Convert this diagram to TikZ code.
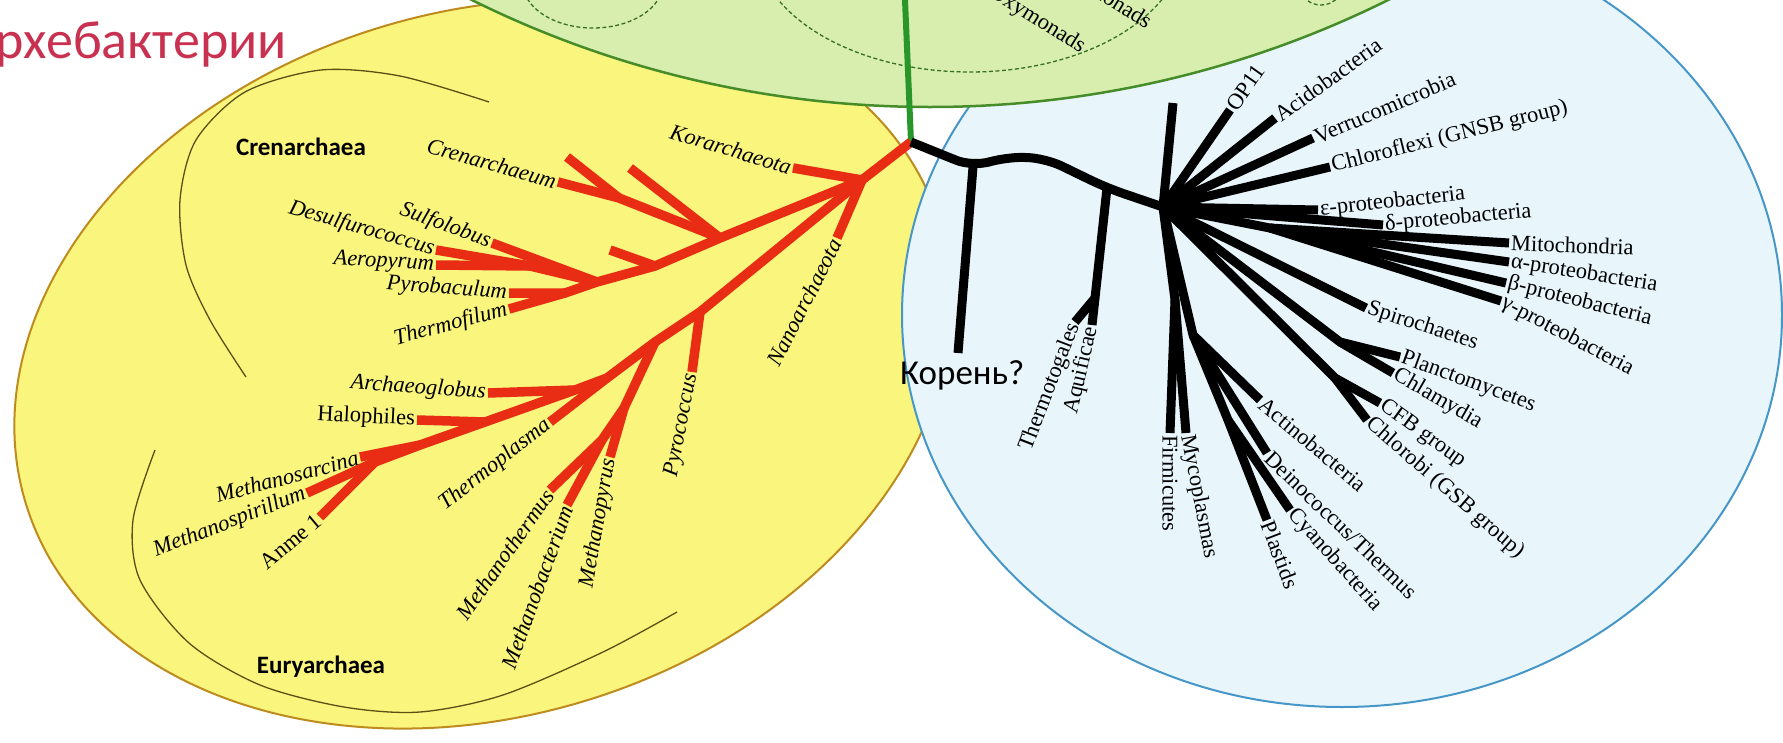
\documentclass[tikz,border=0pt]{standalone}
\usepackage{fontspec}
\setmainfont{Liberation Serif}
\newfontfamily\carl{Carlito}
\definecolor{yfill}{RGB}{250,245,125}
\definecolor{yline}{RGB}{190,140,30}
\definecolor{bfill}{RGB}{232,246,252}
\definecolor{bline}{RGB}{70,150,200}
\definecolor{gfill}{RGB}{215,238,175}
\definecolor{gline}{RGB}{70,140,40}
\definecolor{gstem}{RGB}{40,150,40}
\definecolor{redline}{RGB}{232,45,20}
\definecolor{titlecol}{RGB}{200,50,80}
\definecolor{arccol}{RGB}{90,80,20}
\begin{document}
\begin{tikzpicture}[x=1pt,y=-1pt,
  arch/.style={draw=redline, line width=9.5pt, line join=round},
  bact/.style={draw=black, line width=9pt, line join=round},
  lab/.style={font=\fontsize{22.5}{24}\selectfont, inner sep=2pt, text=black},
  ilab/.style={font=\fontsize{22.5}{24}\selectfont\itshape, inner sep=2pt, text=black},
  grp/.style={font=\carl\bfseries\fontsize{25}{28}\selectfont, inner sep=0pt},
  inner/.style={draw=gline!80!black, line width=1.3pt, dash pattern=on 4pt off 2.5pt},
  arcline/.style={draw=arccol, line width=1.3pt}
]
\fill[white] (0,0) rectangle (1783,742);
\useasboundingbox (0,0) rectangle (1783,742);
\clip (0,0) rectangle (1783,742);

% domains
\filldraw[fill=yfill, draw=yline, line width=2pt, rotate around={17:(483,364)}] (483,364) ellipse [x radius=478, y radius=352];
\filldraw[fill=bfill, draw=bline, line width=2pt] (1342,315) ellipse [x radius=440, y radius=392];
\filldraw[fill=gfill, draw=gline, line width=2.5pt] (930,-925) circle [radius=1032];

% inner dashed groups in Eukarya
\draw[inner] (970,-60) ellipse [x radius=215, y radius=132];
\draw[inner] (593,-17) ellipse [x radius=70, y radius=45];
\draw[inner] (1321,-12) ellipse [x radius=20, y radius=17];
\node[lab, anchor=east, rotate=-32] (tOxy) at (1085,50) {Oxymonads};
\node[lab, anchor=east, rotate=-32] (tTri) at (1152,24) {Trichomonads};

% archaeal group arcs
\draw[arcline] plot[smooth] coordinates {(489,102) (400,76) (321,70) (245,92) (196,140) (180,200) (186,265) (210,320) (246,377)};
\draw[arcline] plot[smooth] coordinates {(155,450) (133,520) (140,580) (189,643) (260,685) (344,707) (420,712) (503,695) (603,652) (677,612)};

% title
\node[font=\carl\fontsize{54}{60}\selectfont, text=titlecol, anchor=base east, inner sep=0pt] (title) at (287,58) {Архебактерии};

% ---------- coordinates ----------
\coordinate (G0) at (905,0);
\coordinate (J) at (911,142);
% archaea
\coordinate (N0) at (862,180);
\coordinate (Kor) at (793,168);
\coordinate (Nan) at (837,238);
\coordinate (Cr1) at (720,238);
\coordinate (Cr2) at (655,266);
\coordinate (Cr3) at (597,282);
\coordinate (Cr4) at (565,293);
\coordinate (CrA) at (630,168);
\coordinate (Cb) at (619,198);
\coordinate (Crn) at (558,182);
\coordinate (CbU) at (567,157);
\coordinate (Cr2U) at (610,250);
\coordinate (Sul) at (492,243);
\coordinate (S1) at (530,266);
\coordinate (Des) at (436,250);
\coordinate (Aer) at (436,265);
\coordinate (Pyb) at (509,293);
\coordinate (Thf) at (509,309);
\coordinate (E1) at (700,312);
\coordinate (Pyc) at (692,372);
\coordinate (E2) at (655,342);
\coordinate (E3) at (607,378);
\coordinate (Tpl) at (550,422);
\coordinate (E4) at (575,390);
\coordinate (Arg) at (488,393);
\coordinate (E5) at (485,422);
\coordinate (Hal) at (417,420);
\coordinate (E6) at (420,445);
\coordinate (Msa) at (360,457);
\coordinate (E7) at (375,462);
\coordinate (Msp) at (307,493);
\coordinate (Anm) at (320,517);
\coordinate (M0) at (624,408);
\coordinate (Mpy) at (610,457);
\coordinate (M1) at (602,440);
\coordinate (Mth) at (550,490);
\coordinate (Mba) at (567,505);
% bacteria
\coordinate (A) at (973,167);
\coordinate (K) at (958,353);
\coordinate (B1) at (1005,157);
\coordinate (B2) at (1045,158);
\coordinate (B) at (1107,188);
\coordinate (C) at (1163,207);
\coordinate (TA) at (1095,298);
\coordinate (Tho) at (1075,322);
\coordinate (Aqu) at (1092,325);
\coordinate (U0) at (1173,103);
\coordinate (OP) at (1230,110);
\coordinate (Aci) at (1275,118);
\coordinate (Ver) at (1313,138);
\coordinate (Chx) at (1330,167);
\coordinate (Eps) at (1318,210);
\coordinate (Del) at (1383,225);
\coordinate (Mn) at (1270,228);
\coordinate (Mit) at (1509,243);
\coordinate (Alp) at (1509,262);
\coordinate (Bet) at (1506,283);
\coordinate (Gam) at (1501,301);
\coordinate (Spi) at (1366,308);
\coordinate (Pn) at (1340,342);
\coordinate (Pla) at (1400,357);
\coordinate (Chl) at (1393,373);
\coordinate (Qn) at (1335,378);
\coordinate (CFB) at (1380,403);
\coordinate (Chb) at (1367,420);
\coordinate (Dn) at (1193,335);
\coordinate (Act) at (1260,400);
\coordinate (Dei) at (1267,453);
\coordinate (D1) at (1228,420);
\coordinate (Cya) at (1290,510);
\coordinate (Pls) at (1267,520);
\coordinate (Fn) at (1175,300);
\coordinate (Fir) at (1170,433);
\coordinate (Myc) at (1186,433);

% ---------- eukarya stem ----------
\draw[gstem, line width=6pt] (G0) -- (J);

% ---------- archaea tree ----------
\draw[arch] (J) -- (N0) -- (Cr1) -- (Cr2) -- (Cr3) -- (Cr4) -- (Pyb);
\draw[arch] (Cr4) -- (Thf);
\draw[arch] (N0) -- (Kor);
\draw[arch] (N0) -- (Nan);
\draw[arch] (Cr1) -- (CrA);
\draw[arch] (Cr1) -- (Cb) -- (Crn);
\draw[arch] (Cb) -- (CbU);
\draw[arch] (Cr2) -- (Cr2U);
\draw[arch] (Cr3) -- (Sul);
\draw[arch] (Cr3) -- (S1) -- (Des);
\draw[arch] (S1) -- (Aer);
\draw[arch] (N0) -- (E1) -- (E2) -- (E3) -- (E4) -- (E5) -- (E6) -- (E7) -- (Msp);
\draw[arch] (E7) -- (Anm);
\draw[arch] (E1) -- (Pyc);
\draw[arch] (E3) -- (Tpl);
\draw[arch] (E4) -- (Arg);
\draw[arch] (E5) -- (Hal);
\draw[arch] (E6) -- (Msa);
\draw[arch] (E2) -- (M0) -- (M1) -- (Mth);
\draw[arch] (M1) -- (Mba);
\draw[arch] (M0) -- (Mpy);

% ---------- bacteria tree ----------
\draw[bact, rounded corners=18pt] (J) -- (A) -- (B1) -- (B2) -- (B) -- (C);
\draw[bact] (A) -- (K);
\draw[bact] (B) -- (TA) -- (Tho);
\draw[bact] (TA) -- (Aqu);
\foreach \e in {U0,OP,Aci,Ver,Chx,Eps,Del,Spi}{\draw[bact] (C) -- (\e);}
\draw[bact] (C) -- (Mn);
\foreach \e in {Mit,Alp,Bet,Gam}{\draw[bact] (Mn) -- (\e);}
\draw[bact] (C) -- (Pn) -- (Pla);
\draw[bact] (Pn) -- (Chl);
\draw[bact] (C) -- (Qn) -- (CFB);
\draw[bact] (Qn) -- (Chb);
\draw[bact] (C) -- (Dn) -- (Act);
\draw[bact] (Dn) -- (Dei);
\draw[bact] (Dn) -- (D1) -- (Cya);
\draw[bact] (D1) -- (Pls);
\draw[bact] (C) -- (Fn) -- (Fir);
\draw[bact] (Fn) -- (Myc);

% ---------- group names ----------
\node[grp] (lCren) at (301,147) {Crenarchaea};
\node[grp] (lEury) at (321,667) {Euryarchaea};
\node[font=\carl\fontsize{35}{40}\selectfont, anchor=base west, inner sep=0pt] (root) at (900,384) {Корень?};

% ---------- archaea labels ----------
\node[ilab, anchor=east, rotate=-17] (lKor) at (Kor) {Korarchaeota};
\node[ilab, anchor=east, rotate=63] (lNan) at (Nan) {Nanoarchaeota};
\node[ilab, anchor=east, rotate=-16] (lCrn) at (Crn) {Crenarchaeum};
\node[ilab, anchor=east, rotate=-20] (lSul) at (Sul) {Sulfolobus};
\node[ilab, anchor=east, rotate=-16] (lDes) at (Des) {Desulfurococcus};
\node[ilab, anchor=east, rotate=-3] (lAer) at (Aer) {Aeropyrum};
\node[ilab, anchor=east, rotate=-4] (lPyb) at (Pyb) {Pyrobaculum};
\node[ilab, anchor=east, rotate=15] (lThf) at (Thf) {Thermofilum};
\node[ilab, anchor=east, rotate=79] (lPyc) at (Pyc) {Pyrococcus};
\node[ilab, anchor=east, rotate=38] (lTpl) at (Tpl) {Thermoplasma};
\node[ilab, anchor=east, rotate=-4] (lArg) at (Arg) {Archaeoglobus};
\node[lab, anchor=east, rotate=-3] (lHal) at (Hal) {Halophiles};
\node[ilab, anchor=east, rotate=15] (lMsa) at (Msa) {Methanosarcina};
\node[ilab, anchor=east, rotate=21] (lMsp) at (Msp) {Methanospirillum};
\node[lab, anchor=east, rotate=40] (lAnm) at (Anm) {Anme 1};
\node[ilab, anchor=east, rotate=80] (lMpy) at (Mpy) {Methanopyrus};
\node[ilab, anchor=east, rotate=55] (lMth) at (Mth) {Methanothermus};
\node[ilab, anchor=east, rotate=70] (lMba) at (Mba) {Methanobacterium};

% ---------- bacteria labels ----------
\node[lab, anchor=east, rotate=69] (lTho) at (Tho) {Thermotogales};
\node[lab, anchor=east, rotate=77] (lAqu) at (Aqu) {Aquificae};
\node[lab, anchor=west, rotate=55] (lOP) at (OP) {OP11};
\node[lab, anchor=west, rotate=36] (lAci) at (Aci) {Acidobacteria};
\node[lab, anchor=west, rotate=23] (lVer) at (Ver) {Verrucomicrobia};
\node[lab, anchor=west, rotate=14] (lChx) at (Chx) {Chloroflexi (GNSB group)};
\node[lab, anchor=west, rotate=6] (lEps) at (Eps) {ε-proteobacteria};
\node[lab, anchor=west, rotate=5] (lDel) at (Del) {δ-proteobacteria};
\node[lab, anchor=west, rotate=-2] (lMit) at (Mit) {Mitochondria};
\node[lab, anchor=west, rotate=-9] (lAlp) at (Alp) {α-proteobacteria};
\node[lab, anchor=west, rotate=-14] (lBet) at (Bet) {β-proteobacteria};
\node[lab, anchor=west, rotate=-28] (lGam) at (Gam) {γ-proteobacteria};
\node[lab, anchor=west, rotate=-18] (lSpi) at (Spi) {Spirochaetes};
\node[lab, anchor=west, rotate=-20] (lPla) at (Pla) {Planctomycetes};
\node[lab, anchor=west, rotate=-30] (lChl) at (Chl) {Chlamydia};
\node[lab, anchor=west, rotate=-36] (lCFB) at (CFB) {CFB group};
\node[lab, anchor=west, rotate=-41] (lChb) at (Chb) {Chlorobi (GSB group)};
\node[lab, anchor=west, rotate=-40] (lAct) at (Act) {Actinobacteria};
\node[lab, anchor=west, rotate=-44] (lDei) at (Dei) {Deinococcus/Thermus};
\node[lab, anchor=west, rotate=-48] (lCya) at (Cya) {Cyanobacteria};
\node[lab, anchor=west, rotate=-69] (lPls) at (Pls) {Plastids};
\node[lab, anchor=west, rotate=-79] (lMyc) at (Myc) {Mycoplasmas};
\node[lab, anchor=west, rotate=-90] (lFir) at (Fir) {Firmicutes};
\end{tikzpicture}
\end{document}
